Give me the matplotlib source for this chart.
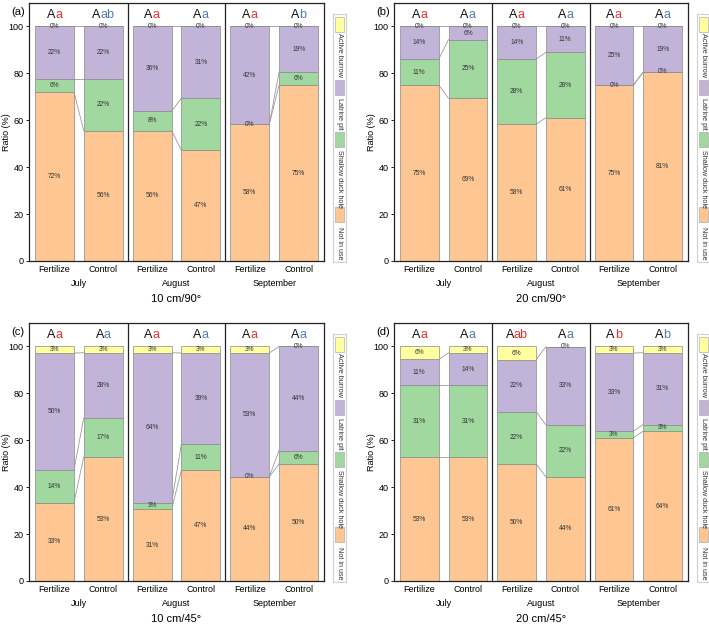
import matplotlib.pyplot as plt
from matplotlib.patches import Rectangle

plt.rcParams['font.family'] = ['Liberation Sans', 'DejaVu Sans']

W, H = 709, 626

treatments = ['Fertilize', 'Control', 'Fertilize', 'Control', 'Fertilize', 'Control']
months = ['July', 'August', 'September']
categories = ['Not in use', 'Shallow duck hole', 'Latrine pit', 'Active burrow']
colors = ['#fdc692', '#a0d89f', '#c2b4d8', '#ffffa0']

# percentages per bar: July F, July C, Aug F, Aug C, Sep F, Sep C
a_not_in_use = [72.2, 55.6, 55.6, 47.2, 58.3, 75.0]
a_shallow = [5.6, 22.2, 8.3, 22.2, 0.0, 5.6]
a_latrine = [22.2, 22.2, 36.1, 30.6, 41.7, 19.4]
a_active = [0.0, 0.0, 0.0, 0.0, 0.0, 0.0]
a_letters = ['a', 'ab', 'a', 'a', 'a', 'b']

b_not_in_use = [75.0, 69.4, 58.3, 61.1, 75.0, 80.6]
b_shallow = [11.1, 25.0, 27.8, 27.8, 0.0, 0.0]
b_latrine = [13.9, 5.6, 13.9, 11.1, 25.0, 19.4]
b_active = [0.0, 0.0, 0.0, 0.0, 0.0, 0.0]
b_letters = ['a', 'a', 'a', 'a', 'a', 'a']

c_not_in_use = [33.3, 52.8, 30.6, 47.2, 44.4, 50.0]
c_shallow = [13.9, 16.7, 2.8, 11.1, 0.0, 5.6]
c_latrine = [50.0, 27.8, 63.9, 38.9, 52.8, 44.4]
c_active = [2.8, 2.8, 2.8, 2.8, 2.8, 0.0]
c_letters = ['a', 'a', 'a', 'a', 'a', 'a']

d_not_in_use = [52.8, 52.8, 50.0, 44.4, 61.1, 63.9]
d_shallow = [30.6, 30.6, 22.2, 22.2, 2.8, 2.8]
d_latrine = [11.1, 13.9, 22.2, 33.3, 33.3, 30.6]
d_active = [5.6, 2.8, 5.6, 0.0, 2.8, 2.8]
d_letters = ['a', 'a', 'ab', 'a', 'b', 'b']

RED = '#e8312f'
BLUE = '#4b7fb6'
WIDTH = 0.8


def px_axes(fig, left, top, right, bottom):
    return fig.add_axes([left / W, 1 - bottom / H, (right - left) / W, (bottom - top) / H])


def draw_legend(fig, left, top, bottom):
    lax = px_axes(fig, left, top, left + 13, bottom)
    lax.set_xlim(0, 13)
    lax.set_ylim(bottom - top, 0)
    lax.set_xticks([])
    lax.set_yticks([])
    for s in lax.spines.values():
        s.set_color('#d0d0d0')
        s.set_linewidth(0.8)
    # (patch top, text top) in pixels, from top to bottom
    slots = [(3, 19), (66, 84), (118, 136), (193, 213)]
    for k, (ptop, ttop) in zip([3, 2, 1, 0], slots):
        lax.add_patch(Rectangle((2, ptop), 9, 15, facecolor=colors[k],
                                edgecolor='#a0a0a0', linewidth=0.4))
        lax.text(6.7, ttop, categories[k], rotation=270, ha='center', va='top',
                 fontsize=5.2, color='#333333')


def draw_panel(fig, box, layers, letters, title, tag):
    left, top, right, bottom = box
    ax = px_axes(fig, left, top, right, bottom)
    x = list(range(len(treatments)))
    base = [0.0] * len(x)
    bounds = []
    for k, vals in enumerate(layers):
        ax.bar(x, vals, WIDTH, bottom=base, color=colors[k], edgecolor='#8a8a8a',
               linewidth=0.5, zorder=2)
        for i, v in enumerate(vals):
            ax.text(i, base[i] + v / 2, f'{v:.0f}%', ha='center', va='center',
                    fontsize=4.8, color='#333333', zorder=4)
        base = [b + v for b, v in zip(base, vals)]
        bounds.append(list(base))
    # connecting lines between Fertilize and Control within each month
    for lev in bounds[:3]:
        for m in range(3):
            i, j = 2 * m, 2 * m + 1
            ax.plot([i + WIDTH / 2, j - WIDTH / 2], [lev[i], lev[j]],
                    color='#9a9a9a', linewidth=0.6, zorder=1)
    for sep in [1.5, 3.5]:
        ax.axvline(sep, color='#222222', linewidth=0.9)
    ax.set_xlim(-0.52, 5.52)
    ax.set_ylim(0, 110)
    ax.set_yticks([0, 20, 40, 60, 80, 100])
    ax.tick_params(axis='y', labelsize=6.5, length=2.5, width=0.6, pad=1.5)
    ax.set_xticks(x)
    ax.set_xticklabels(treatments, fontsize=6.5)
    ax.tick_params(axis='x', length=0, pad=3)
    ax.set_ylabel('Ratio (%)', fontsize=6.5)
    ax.yaxis.set_label_coords(-18 / (right - left), 0.5)
    for s in ax.spines.values():
        s.set_color('#222222')
        s.set_linewidth(0.9)
    # significance letters
    fs = 9
    for i, low in enumerate(letters):
        lc = RED if i % 2 == 0 else BLUE
        dx = (0.667 - 0.556 * len(low)) / 2 * fs
        ax.annotate('A', (i, 105), xytext=(dx, 0), textcoords='offset points',
                    ha='right', va='center', fontsize=fs, color='#111111')
        ax.annotate(low, (i, 105), xytext=(dx, 0), textcoords='offset points',
                    ha='left', va='center', fontsize=fs, color=lc)
    for m, name in enumerate(months):
        ax.annotate(name, (2 * m + 0.5, 0), xycoords=('data', 'axes fraction'),
                    xytext=(0, -16.5), textcoords='offset points',
                    ha='center', va='center', fontsize=6.5)
    ax.annotate(title, (0.5, 0), xycoords='axes fraction', xytext=(0, -27),
                textcoords='offset points', ha='center', va='center', fontsize=8)
    fig.text((left - 11) / W, 1 - (top + 9) / H, tag, ha='center', va='center', fontsize=8)
    draw_legend(fig, right + 9, top + 11, bottom + 1)


fig = plt.figure(figsize=(W / 100, H / 100), dpi=100)

draw_panel(fig, (29, 3, 324, 261), [a_not_in_use, a_shallow, a_latrine, a_active],
           a_letters, '10 cm/90°', '(a)')
draw_panel(fig, (394, 3, 688, 261), [b_not_in_use, b_shallow, b_latrine, b_active],
           b_letters, '20 cm/90°', '(b)')
draw_panel(fig, (29, 323, 324, 581), [c_not_in_use, c_shallow, c_latrine, c_active],
           c_letters, '10 cm/45°', '(c)')
draw_panel(fig, (394, 323, 688, 581), [d_not_in_use, d_shallow, d_latrine, d_active],
           d_letters, '20 cm/45°', '(d)')

fig.savefig('out.png', dpi=100)
